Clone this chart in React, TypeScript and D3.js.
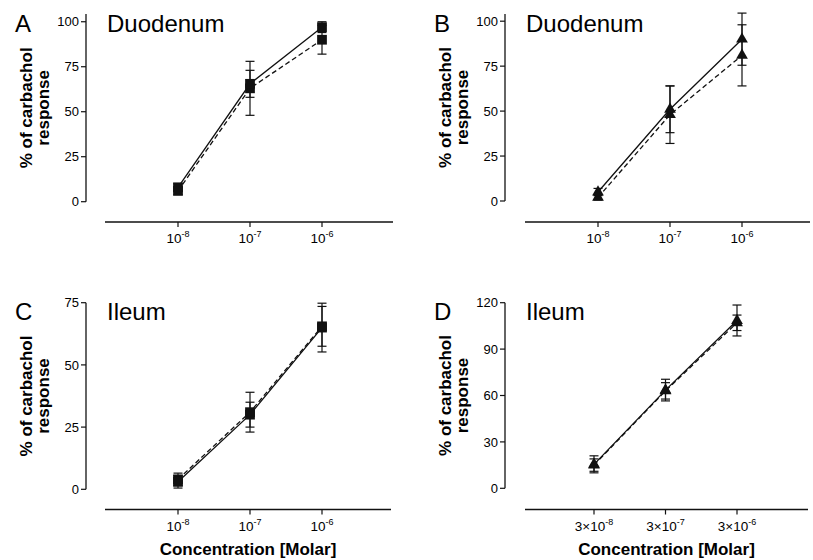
import React, { useEffect, useRef } from 'react';
import * as d3 from 'd3';

// concentrations (Molar)
const concDuodenum = [1e-8, 1e-7, 1e-6];
const concIleumA = [1e-8, 1e-7, 1e-6];
const concIleumB = [3e-8, 3e-7, 3e-6];

// panel A - duodenum, squares
const aSolid = [8, 65.5, 97];
const aSolidErr = [2, 7.5, 3];
const aDashed = [6, 63, 90];
const aDashedErr = [2, 15, 8];

// panel B - duodenum, triangles
const bSolid = [5, 51, 90];
const bSolidErr = [2, 13, 14.5];
const bDashed = [2, 48, 81];
const bDashedErr = [1.5, 16, 17];

// panel C - ileum, squares
const cSolid = [3, 30, 65];
const cSolidErr = [2.5, 5, 9.8];
const cDashed = [4, 31, 65.5];
const cDashedErr = [2.5, 8, 8];

// panel D - ileum, triangles
const dSolid = [15.5, 63.5, 108.5];
const dSolidErr = [5.5, 7, 10];
const dDashed = [15, 63, 107];
const dDashedErr = [4, 5.3, 5];

const yTicksDuo = [0, 25, 50, 75, 100];
const yTicksIleC = [0, 25, 50, 75];
const yTicksIleD = [0, 30, 60, 90, 120];

const xLabelsPlain = [['10', '-8'], ['10', '-7'], ['10', '-6']];
const xLabelsThree = [['3×10', '-8'], ['3×10', '-7'], ['3×10', '-6']];

const FONT = '"Liberation Sans", Arial, Helvetica, sans-serif';

const panels = [
  {
    letter: 'A', title: 'Duodenum', marker: 'square',
    conc: concDuodenum, xDomain: [1e-9, 1e-5], xRange: [106, 394], xLine: [105, 393],
    yDomain: [0, 104.3], yRange: [201.7, 14], yTicks: yTicksDuo,
    axisX: 86, axisY: 222, labelOff: 0, xLabels: xLabelsPlain, showXTitle: false,
    solid: aSolid, solidErr: aSolidErr, dashed: aDashed, dashedErr: aDashedErr,
  },
  {
    letter: 'B', title: 'Duodenum', marker: 'triangle',
    conc: concDuodenum, xDomain: [1e-9, 1e-5], xRange: [526, 814], xLine: [525, 810],
    yDomain: [0, 104], yRange: [201, 14], yTicks: yTicksDuo,
    axisX: 505, axisY: 222, labelOff: 419, xLabels: xLabelsPlain, showXTitle: false,
    solid: bSolid, solidErr: bSolidErr, dashed: bDashed, dashedErr: bDashedErr,
  },
  {
    letter: 'C', title: 'Ileum', marker: 'square',
    conc: concIleumA, xDomain: [1e-9, 1e-5], xRange: [106, 394], xLine: [105, 391],
    yDomain: [0, 75], yRange: [489.3, 302.7], yTicks: yTicksIleC,
    axisX: 86, axisY: 509.5, labelOff: 0, xLabels: xLabelsPlain, showXTitle: true,
    solid: cSolid, solidErr: cSolidErr, dashed: cDashed, dashedErr: cDashedErr,
  },
  {
    letter: 'D', title: 'Ileum', marker: 'triangle',
    conc: concIleumB, xDomain: [3e-9, 3e-5], xRange: [522.5, 808.5], xLine: [525, 808],
    yDomain: [0, 120], yRange: [488.3, 302.7], yTicks: yTicksIleD,
    axisX: 505, axisY: 509.5, labelOff: 419, xLabels: xLabelsThree, showXTitle: true,
    solid: dSolid, solidErr: dSolidErr, dashed: dDashed, dashedErr: dDashedErr,
  },
];

const App = () => {
  const svgRef = useRef(null);

  useEffect(() => {
    const svg = d3.select(svgRef.current);
    svg.selectAll('*').remove();

    panels.forEach((p) => {
      const g = svg.append('g');
      const x = d3.scaleLog().domain(p.xDomain).range(p.xRange);
      const y = d3.scaleLinear().domain(p.yDomain).range(p.yRange);

      // y axis line + ticks
      g.append('line')
        .attr('x1', p.axisX).attr('x2', p.axisX)
        .attr('y1', y(p.yDomain[0])).attr('y2', y(p.yDomain[1]))
        .attr('stroke', '#111').attr('stroke-width', 1.3);
      p.yTicks.forEach((t) => {
        g.append('line')
          .attr('x1', p.axisX - 5).attr('x2', p.axisX)
          .attr('y1', y(t)).attr('y2', y(t))
          .attr('stroke', '#111').attr('stroke-width', 1.2);
        g.append('text')
          .attr('x', p.axisX - 7).attr('y', y(t)).attr('dy', '0.36em')
          .attr('text-anchor', 'end')
          .style('font-family', FONT).style('font-size', '13px')
          .text(t);
      });

      // x axis line + ticks
      g.append('line')
        .attr('x1', p.xLine[0]).attr('x2', p.xLine[1])
        .attr('y1', p.axisY).attr('y2', p.axisY)
        .attr('stroke', '#111').attr('stroke-width', 1.5);
      p.conc.forEach((c, i) => {
        g.append('line')
          .attr('x1', x(c)).attr('x2', x(c))
          .attr('y1', p.axisY).attr('y2', p.axisY + 5)
          .attr('stroke', '#111').attr('stroke-width', 1.2);
        const lbl = g.append('text')
          .attr('x', x(c)).attr('y', p.axisY + 21)
          .attr('text-anchor', 'middle')
          .style('font-family', FONT).style('font-size', '13.5px');
        lbl.append('tspan').text(p.xLabels[i][0]);
        lbl.append('tspan').attr('dy', -6).style('font-size', '9px').text(p.xLabels[i][1]);
      });

      // panel letter + title
      g.append('text')
        .attr('x', p.axisX - 71).attr('y', p.axisY - 190)
        .style('font-family', FONT).style('font-size', '24px')
        .text(p.letter);
      g.append('text')
        .attr('x', p.axisX + 21).attr('y', p.axisY - 190)
        .style('font-family', FONT).style('font-size', '24px')
        .text(p.title);

      // y axis title, two lines
      const yMid = (p.yRange[0] + p.yRange[1]) / 2;
      [['% of carbachol', 32], ['response', 49]].forEach(([txt, bx]) => {
        g.append('text')
          .attr('transform', `translate(${(bx as number) + p.labelOff},${yMid}) rotate(-90)`)
          .attr('text-anchor', 'middle')
          .style('font-family', FONT).style('font-size', '17px').style('font-weight', 'bold')
          .text(txt as string);
      });

      if (p.showXTitle) {
        g.append('text')
          .attr('x', (p.xLine[0] + p.xLine[1]) / 2).attr('y', 555)
          .attr('text-anchor', 'middle')
          .style('font-family', FONT).style('font-size', '17px').style('font-weight', 'bold')
          .text('Concentration [Molar]');
      }

      // series
      const series = [
        { vals: p.dashed, errs: p.dashedErr, dash: '5,3' },
        { vals: p.solid, errs: p.solidErr, dash: null },
      ];
      const line = d3.line<number>()
        .x((d, i) => x(p.conc[i]))
        .y((d) => y(d));
      const sym = d3.symbol()
        .type(p.marker === 'square' ? d3.symbolSquare : d3.symbolTriangle)
        .size(p.marker === 'square' ? 95 : 60);

      series.forEach((s) => {
        // error bars
        s.vals.forEach((v, i) => {
          const cx = x(p.conc[i]);
          const top = y(v + s.errs[i]);
          const bot = y(v - s.errs[i]);
          g.append('line').attr('x1', cx).attr('x2', cx).attr('y1', top).attr('y2', bot)
            .attr('stroke', '#111').attr('stroke-width', 1.2);
          [top, bot].forEach((yy) => {
            g.append('line').attr('x1', cx - 4.5).attr('x2', cx + 4.5).attr('y1', yy).attr('y2', yy)
              .attr('stroke', '#111').attr('stroke-width', 1.2);
          });
        });
        g.append('path')
          .datum(s.vals)
          .attr('d', line)
          .attr('fill', 'none')
          .attr('stroke', '#111')
          .attr('stroke-width', 1.3)
          .attr('stroke-dasharray', s.dash);
        g.selectAll(null)
          .data(s.vals)
          .enter()
          .append('path')
          .attr('d', sym)
          .attr('transform', (d, i) => `translate(${x(p.conc[i])},${y(d)})`)
          .attr('fill', '#111');
      });
    });
  }, []);

  return (
    <svg
      ref={svgRef}
      width={813}
      height={560}
      style={{ position: 'absolute', left: 0, top: 0, background: '#fff' }}
    />
  );
};

export default App;
